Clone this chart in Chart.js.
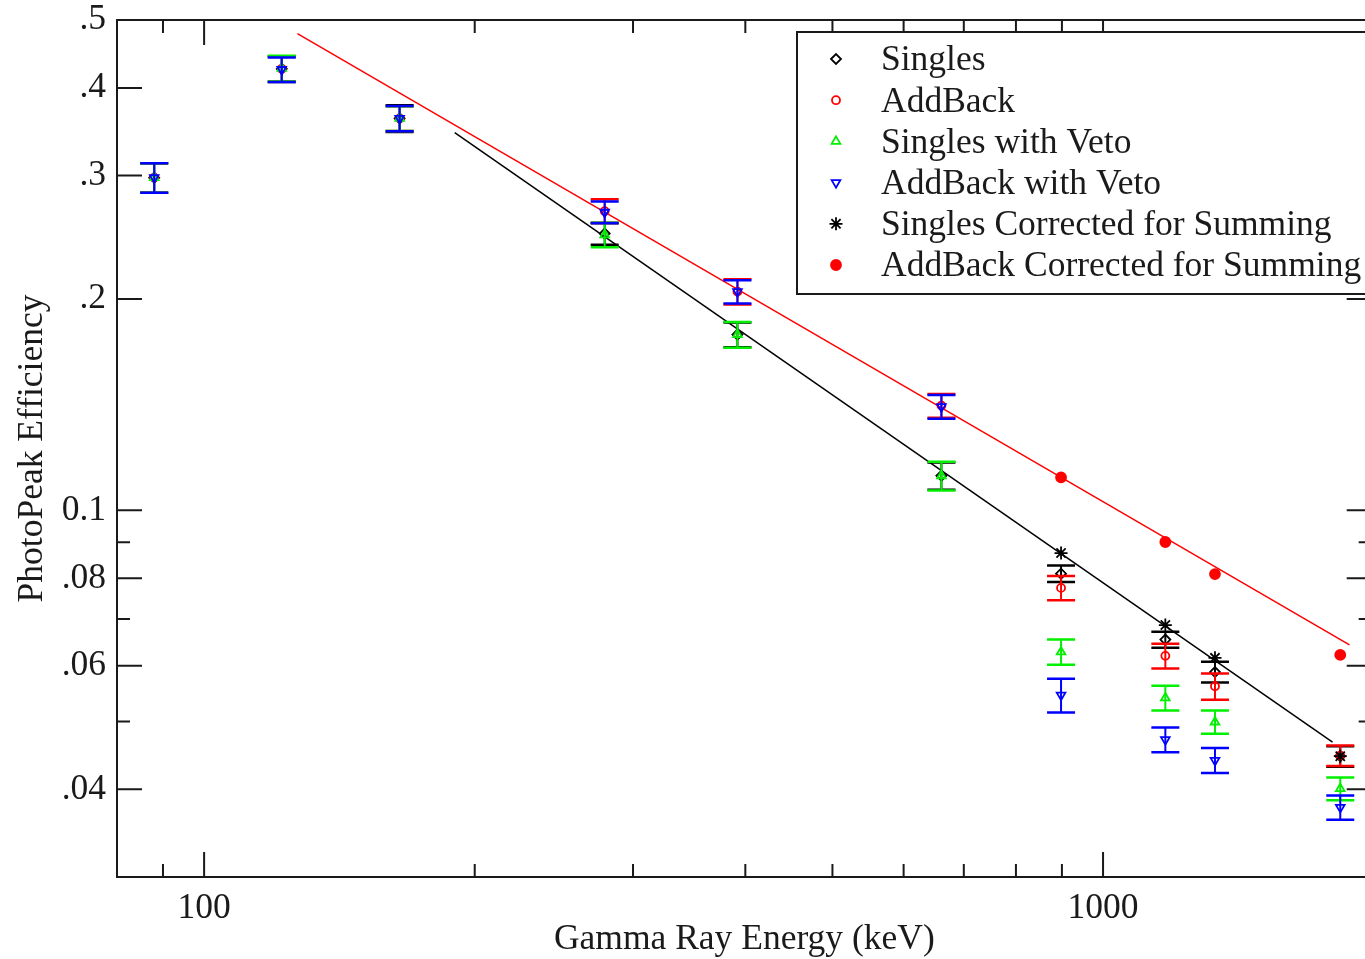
<!DOCTYPE html>
<html>
<head>
<meta charset="utf-8">
<script src="https://cdn.jsdelivr.net/npm/chart.js@4.4.1/dist/chart.umd.min.js"></script>
<style>
  html, body { margin: 0; padding: 0; background: #fff; overflow: hidden; }
</style>
</head>
<body>
<canvas id="effChart" width="1380" height="959"></canvas>
<script>
// gamma energies (keV)
const energies = [88, 122, 165, 279, 392, 661, 898, 1173, 1332, 1836];
const sumEnergies = [898, 1173, 1332, 1836];

const singles        = [0.298, 0.426, 0.362, 0.248, 0.178, 0.112, 0.0812, 0.0654, 0.0588, 0.0446];
const singlesErr     = [0.0145, 0.018, 0.0158, 0.009, 0.0072, 0.005, 0.0022, 0.0017, 0.0020, 0.0015];
const addBack        = [0.298, 0.426, 0.362, 0.267, 0.205, 0.141, 0.0775, 0.0620, 0.0561, 0.0447];
const addBackErr     = [0.0145, 0.0175, 0.0148, 0.0105, 0.0085, 0.0055, 0.0031, 0.0025, 0.0024, 0.0015];
const singlesVeto    = [0.298, 0.4265, 0.362, 0.247, 0.178, 0.112, 0.0628, 0.0540, 0.0499, 0.0401];
const singlesVetoErr = [0.0145, 0.018, 0.0148, 0.0098, 0.0075, 0.0053, 0.0026, 0.0022, 0.0019, 0.0015];
const addBackVeto    = [0.298, 0.425, 0.362, 0.266, 0.205, 0.1405, 0.0545, 0.0471, 0.0440, 0.0377];
const addBackVetoErr = [0.0145, 0.017, 0.015, 0.0095, 0.0078, 0.0055, 0.0030, 0.0019, 0.0018, 0.0015];
const singlesSum     = [0.0869, 0.0686, 0.0616, 0.0446];
const addBackSum     = [0.1114, 0.0901, 0.0811, 0.0622];

// fitted lines (end points)
const addBackFitE = [127, 1880];
const addBackFit  = [0.478, 0.0643];
const singlesFitE = [190, 1800];
const singlesFit  = [0.3455, 0.0467];

// axis ticks
const xMajor = [100, 1000];
const xMinor = [90, 200, 300, 400, 500, 600, 700, 800, 900];
const xTickLabels = ['100', '1000'];
const yMajor = [0.04, 0.06, 0.08, 0.1, 0.2, 0.3, 0.4, 0.5];
const yMinor = [0.05, 0.07, 0.09];
const yTickLabels = ['.04', '.06', '.08', '0.1', '.2', '.3', '.4', '.5'];

const FONT = '"Liberation Serif", "Times New Roman", serif';
const FSIZE = 35.5;
const INK = '#1a1a1a';

const pts = (xs, ys) => xs.map((x, i) => ({ x: x, y: ys[i] }));

const errorBars = {
    id: 'errorBars',
    beforeDatasetDraw(chart, args) {
        const ds = chart.data.datasets[args.index];
        if (!ds.errors) return;
        const { ctx, scales: { x, y } } = chart;
        ctx.save();
        ctx.strokeStyle = ds.borderColor;
        ds.data.forEach((p, i) => {
            const e = ds.errors[i];
            const px = x.getPixelForValue(p.x);
            const top = y.getPixelForValue(p.y + e);
            const bot = y.getPixelForValue(p.y - e);
            ctx.lineWidth = 2;
            ctx.beginPath();
            ctx.moveTo(px, top);
            ctx.lineTo(px, bot);
            ctx.stroke();
            ctx.lineWidth = 2.5;
            ctx.beginPath();
            ctx.moveTo(px - 14, top);
            ctx.lineTo(px + 14, top);
            ctx.moveTo(px - 14, bot);
            ctx.lineTo(px + 14, bot);
            ctx.stroke();
        });
        ctx.restore();
    }
};

const frameTicks = {
    id: 'frameTicks',
    afterDatasetsDraw(chart) {
        const { ctx, chartArea: a, scales: { x, y } } = chart;
        ctx.save();
        ctx.strokeStyle = INK;
        ctx.lineWidth = 2;
        ctx.beginPath();
        const xt = (v, len) => {
            const px = x.getPixelForValue(v);
            ctx.moveTo(px, a.bottom); ctx.lineTo(px, a.bottom - len);
            ctx.moveTo(px, a.top); ctx.lineTo(px, a.top + len);
        };
        const yt = (v, len) => {
            const py = y.getPixelForValue(v);
            ctx.moveTo(a.left, py); ctx.lineTo(a.left + len, py);
            ctx.moveTo(a.right, py); ctx.lineTo(a.right - len, py);
        };
        xMajor.forEach(v => xt(v, 25));
        xMinor.forEach(v => xt(v, 13));
        yMajor.forEach(v => yt(v, 25));
        yMinor.forEach(v => yt(v, 13));
        ctx.stroke();
        ctx.strokeRect(a.left, a.top, a.right - a.left, a.bottom - a.top);
        ctx.restore();
    }
};

const boxLegend = {
    id: 'boxLegend',
    afterDraw(chart) {
        const ctx = chart.ctx;
        const left = 797, top = 32, bottom = 294;
        ctx.save();
        ctx.fillStyle = '#fff';
        ctx.fillRect(left, top, 700, bottom - top);
        ctx.strokeStyle = INK;
        ctx.lineWidth = 2;
        ctx.strokeRect(left, top, 700, bottom - top);
        const items = chart.data.datasets.filter(d => !d.isFit);
        items.forEach((d, i) => {
            const cy = 59 + i * 41.2;
            ctx.fillStyle = d.pointBackgroundColor;
            ctx.strokeStyle = d.borderColor;
            ctx.lineWidth = d.pointBorderWidth;
            Chart.helpers.drawPoint(ctx, {
                pointStyle: d.pointStyle,
                rotation: d.pointRotation || 0,
                radius: d.pointRadius,
                borderWidth: d.pointBorderWidth
            }, 836, cy);
            ctx.fillStyle = INK;
            ctx.font = FSIZE + 'px ' + FONT;
            ctx.textBaseline = 'middle';
            ctx.textAlign = 'left';
            ctx.fillText(d.label, 881, cy + 2);
        });
        ctx.restore();
    }
};

function series(label, xs, ys, errs, color, style, order, extra) {
    return Object.assign({
        label: label,
        data: pts(xs, ys),
        errors: errs,
        borderColor: color,
        pointBackgroundColor: 'rgba(0,0,0,0)',
        pointBorderColor: color,
        pointBorderWidth: 1.8,
        pointStyle: style,
        pointRadius: 5,
        showLine: false,
        order: order
    }, extra || {});
}

const ctx = document.getElementById('effChart').getContext('2d');

new Chart(ctx, {
    type: 'scatter',
    data: {
        datasets: [
            series('Singles', energies, singles, singlesErr, '#000000', 'rectRot', 6),
            series('AddBack', energies, addBack, addBackErr, '#ff0000', 'circle', 5, { pointRadius: 4 }),
            series('Singles with Veto', energies, singlesVeto, singlesVetoErr, '#00f000', 'triangle', 4),
            series('AddBack with Veto', energies, addBackVeto, addBackVetoErr, '#0000ff', 'triangle', 3, { pointRotation: 180 }),
            series('Singles Corrected for Summing', sumEnergies, singlesSum, null, '#000000', 'star', 2, { pointRadius: 6.5 }),
            series('AddBack Corrected for Summing', sumEnergies, addBackSum, null, '#ff0000', 'circle', 1, { pointBackgroundColor: '#ff0000', pointRadius: 5 }),
            {
                label: 'AddBack fit',
                isFit: true,
                data: pts(addBackFitE, addBackFit),
                showLine: true,
                borderColor: '#ff0000',
                borderWidth: 1.5,
                pointRadius: 0,
                order: 8
            },
            {
                label: 'Singles fit',
                isFit: true,
                data: pts(singlesFitE, singlesFit),
                showLine: true,
                borderColor: '#000000',
                borderWidth: 1.5,
                pointRadius: 0,
                order: 7
            }
        ]
    },
    options: {
        responsive: false,
        animation: false,
        layout: { padding: { top: 20, right: 3, left: 0, bottom: 0 } },
        plugins: {
            legend: { display: false },
            tooltip: { enabled: false }
        },
        scales: {
            x: {
                type: 'logarithmic',
                min: 80,
                max: 1990,
                afterFit: scale => {
                    scale.height = 82;
                    scale.paddingLeft = 0;
                    scale.paddingRight = 0;
                },
                afterBuildTicks: scale => { scale.ticks = xMajor.map(v => ({ value: v })); },
                grid: { display: false, drawTicks: false },
                border: { display: false },
                ticks: {
                    autoSkip: false,
                    maxRotation: 0,
                    padding: 10,
                    color: INK,
                    font: { family: FONT, size: FSIZE },
                    callback: (value, index) => xTickLabels[index]
                },
                title: {
                    display: true,
                    text: 'Gamma Ray Energy (keV)',
                    color: INK,
                    font: { family: FONT, size: FSIZE },
                    padding: { top: 0, bottom: -2 }
                }
            },
            y: {
                type: 'logarithmic',
                min: 0.03,
                max: 0.5,
                afterFit: scale => {
                    scale.width = 117;
                    scale.paddingTop = 0;
                    scale.paddingBottom = 0;
                },
                afterBuildTicks: scale => { scale.ticks = yMajor.map(v => ({ value: v })); },
                grid: { display: false, drawTicks: false },
                border: { display: false },
                ticks: {
                    autoSkip: false,
                    padding: 11,
                    color: INK,
                    font: { family: FONT, size: FSIZE },
                    callback: (value, index) => yTickLabels[index]
                },
                title: {
                    display: true,
                    text: 'PhotoPeak Efficiency',
                    color: INK,
                    font: { family: FONT, size: FSIZE },
                    padding: { top: 11, bottom: 0 }
                }
            }
        }
    },
    plugins: [errorBars, frameTicks, boxLegend]
});
</script>
</body>
</html>
